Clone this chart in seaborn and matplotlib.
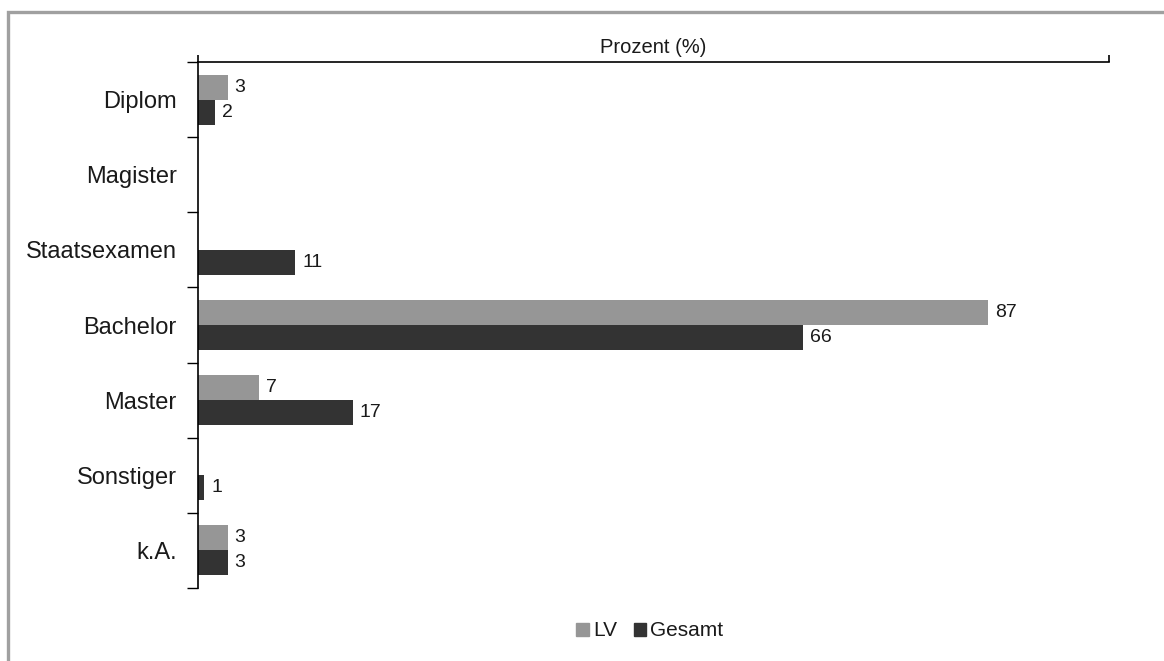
import pandas as pd
import matplotlib.pyplot as plt
import matplotlib.patches as mpatches
import seaborn as sns

# Data (percent)
categories = ['Diplom', 'Magister', 'Staatsexamen', 'Bachelor', 'Master', 'Sonstiger', 'k.A.']
lv_values = [3.3, 0, 0, 86.7, 6.7, 0, 3.3]
gesamt_values = [1.9, 0, 10.7, 66.4, 17.0, 0.7, 3.3]
series_names = ['LV', 'Gesamt']
colors = ['#969696', '#333333']

df = pd.DataFrame({
    'Abschluss': categories * 2,
    'Wert': lv_values + gesamt_values,
    'Gruppe': [series_names[0]] * len(categories) + [series_names[1]] * len(categories),
})

sns.set_style('white')
plt.rcParams['font.family'] = ['Liberation Sans', 'DejaVu Sans']

fig = plt.figure(figsize=(11.64, 6.61), dpi=100)
ax = fig.add_axes([197.7 / 1164, 1 - 588 / 661, (1109 - 197.7) / 1164, (588 - 62) / 661])

sns.barplot(data=df, y='Abschluss', x='Wert', hue='Gruppe', order=categories,
            hue_order=series_names, palette=colors, orient='h', width=2 / 3,
            linewidth=0, legend=False, ax=ax)

# value labels
for cont, vals in zip(ax.containers, [lv_values, gesamt_values]):
    labels = [f'{v:.0f}' if v > 0 else '' for v in vals]
    ax.bar_label(cont, labels=labels, padding=5, fontsize=14, color='#1a1a1a')

ax.set_xlim(0, 100)
ax.set_ylim(len(categories) - 0.5, -0.5)

# x axis on top, only label and end ticks
ax.xaxis.tick_top()
ax.xaxis.set_label_position('top')
ax.set_xticks([0, 100])
ax.set_xticklabels([])
ax.tick_params(axis='x', length=5, width=1.2, color='black', direction='out')
ax.set_xlabel('Prozent (%)', fontsize=14.5, labelpad=-2, color='#1a1a1a')

# y ticks at boundaries, labels at centers
ax.set_yticks([i - 0.5 for i in range(len(categories) + 1)])
ax.set_yticklabels([])
ax.set_yticks(range(len(categories)), minor=True)
ax.set_yticklabels(categories, minor=True, fontsize=17, color='#1a1a1a')
ax.tick_params(axis='y', which='major', length=8, width=1.0, color='black', direction='out', left=True)
ax.tick_params(axis='y', which='minor', length=0, pad=15)
ax.set_ylabel('')

for side in ['right', 'bottom']:
    ax.spines[side].set_visible(False)
for side in ['top', 'left']:
    ax.spines[side].set_visible(True)
    ax.spines[side].set_color('black')
    ax.spines[side].set_linewidth(1.2)

# legend
handles = [mpatches.Patch(color=c, label=n) for c, n in zip(colors, series_names)]
fig.legend(handles=handles, loc='center', bbox_to_anchor=(650 / 1164, 1 - 631 / 661),
           ncol=2, frameon=False, fontsize=15, handlelength=0.6, handleheight=0.6,
           handletextpad=0.2, columnspacing=0.8, labelcolor='#1a1a1a')

# grey frame around the chart area
frame = mpatches.Rectangle((8 / 1164, -0.1), 1.2, 1.1 - 12 / 661, transform=fig.transFigure,
                           fill=False, edgecolor='#a0a0a0', linewidth=2.4)
fig.patches.append(frame)

fig.savefig('out.png', dpi=100)
